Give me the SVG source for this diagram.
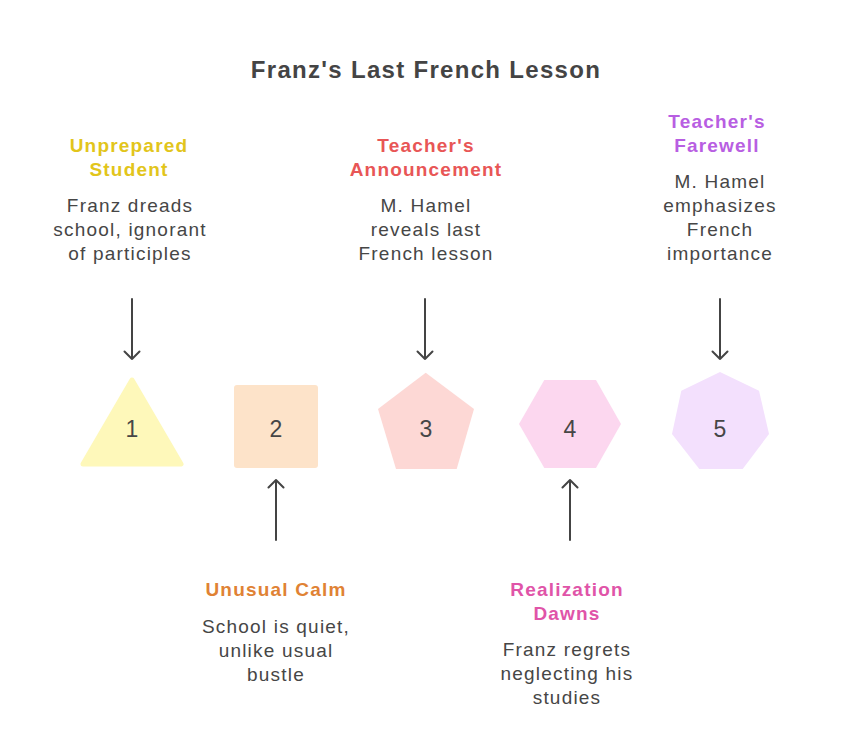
<svg xmlns="http://www.w3.org/2000/svg" width="852" height="756" viewBox="0 0 852 756">
<defs>
<style>
text{font-family:"Liberation Sans",Arial,sans-serif;text-anchor:middle;fill:#464646}
.title{font-size:24px;font-weight:bold;letter-spacing:1.3px;fill:#444}
.head{font-size:19px;font-weight:bold;letter-spacing:1.2px}
.body{font-size:19px;letter-spacing:1.2px}
.num{font-size:23px}
.conn{stroke:#444;stroke-width:2;fill:none;stroke-linecap:round;stroke-linejoin:round}
.shape{stroke-linejoin:round}
</style>
</defs>
<rect width="852" height="756" fill="#ffffff"/>
<text class="title" x="426" y="78">Franz's Last French Lesson</text>

<g id="connectors">
<path class="conn" d="M132 299V359M124.5 351.5L132 359L139.5 351.5"/>
<path class="conn" d="M425 299V359M417.5 351.5L425 359L432.5 351.5"/>
<path class="conn" d="M720 299V359M712.5 351.5L720 359L727.5 351.5"/>
<path class="conn" d="M276 540V480M268.5 487.5L276 480L283.5 487.5"/>
<path class="conn" d="M570 540V480M562.5 487.5L570 480L577.5 487.5"/>
</g>

<g id="node1">
<polygon class="shape" points="132,380 181,464 83,464" fill="#fef8ba" stroke="#fef8ba" stroke-width="5"/>
<text class="num" x="132" y="437">1</text>
</g>
<g id="node2">
<rect x="234" y="385" width="84" height="83" rx="3" fill="#fde3c9"/>
<text class="num" x="276" y="437">2</text>
</g>
<g id="node3">
<polygon points="425.7,372.7 474,409 456.7,469 396,469 378,409" fill="#fdd8d5"/>
<text class="num" x="426" y="437">3</text>
</g>
<g id="node4">
<polygon points="544.3,380 596,380 621,424 596,468 544.3,468 519,424" fill="#fcd7ef"/>
<text class="num" x="570" y="437">4</text>
</g>
<g id="node5">
<polygon points="720,372 759,390.7 769,434 742.7,469 699.3,469 672,434 681.3,390.7" fill="#f3e0fd"/>
<text class="num" x="720" y="437">5</text>
</g>

<g id="label1">
<text class="head" x="129" y="152" style="fill:#e2c51b">Unprepared</text>
<text class="head" x="129" y="176" style="fill:#e2c51b">Student</text>
<text class="body" x="130" y="212">Franz dreads</text>
<text class="body" x="130" y="236">school, ignorant</text>
<text class="body" x="130" y="260">of participles</text>
</g>
<g id="label2">
<text class="head" x="276" y="596" style="fill:#e08234">Unusual Calm</text>
<text class="body" x="276" y="633">School is quiet,</text>
<text class="body" x="276" y="657">unlike usual</text>
<text class="body" x="276" y="681">bustle</text>
</g>
<g id="label3">
<text class="head" x="426" y="152" style="fill:#e85656">Teacher's</text>
<text class="head" x="426" y="176" style="fill:#e85656">Announcement</text>
<text class="body" x="426" y="212">M. Hamel</text>
<text class="body" x="426" y="236">reveals last</text>
<text class="body" x="426" y="260">French lesson</text>
</g>
<g id="label4">
<text class="head" x="567" y="596" style="fill:#e054a8">Realization</text>
<text class="head" x="567" y="620" style="fill:#e054a8">Dawns</text>
<text class="body" x="567" y="656">Franz regrets</text>
<text class="body" x="567" y="680">neglecting his</text>
<text class="body" x="567" y="704">studies</text>
</g>
<g id="label5">
<text class="head" x="717" y="128" style="fill:#b85ee2">Teacher's</text>
<text class="head" x="717" y="152" style="fill:#b85ee2">Farewell</text>
<text class="body" x="720" y="188">M. Hamel</text>
<text class="body" x="720" y="212">emphasizes</text>
<text class="body" x="720" y="236">French</text>
<text class="body" x="720" y="260">importance</text>
</g>
</svg>
